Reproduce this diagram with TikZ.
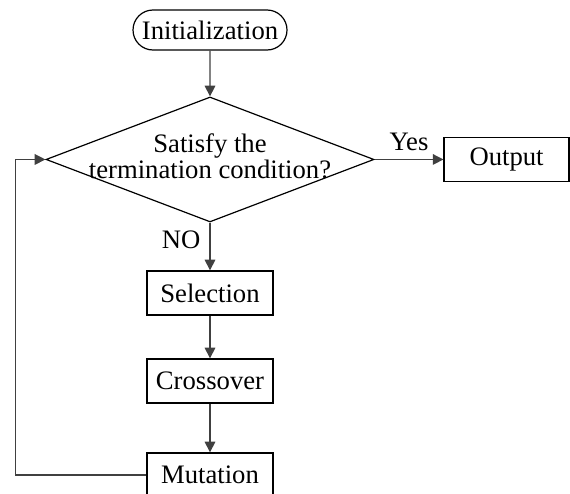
\documentclass[tikz,border=0pt]{standalone}
\usepackage{fontspec}
\setmainfont{Liberation Serif}
\usetikzlibrary{arrows.meta,shapes.geometric,shapes.misc}

\begin{document}
\begin{tikzpicture}[
    line width=0.9pt,
    font=\fontsize{20pt}{16pt}\selectfont,
    start_style/.style={
        rounded rectangle,
        draw=black,
        minimum width=115.5pt,
        minimum height=30pt,
        inner sep=0pt
        },
    decision_style/.style={
        diamond,
        draw=black,
        minimum width=246pt,
        minimum height=93.75pt,
        inner sep=0pt
        },
    block_style/.style={
        rectangle,
        draw=black,
        minimum width=94.5pt,
        minimum height=33pt,
        inner sep=0pt
        },
    edge_style/.style={
        draw=black!75,
        -{Triangle[length=8pt,width=8pt]}
        }]

    \useasboundingbox (0,0) rectangle (427.5pt,-369.75pt);

    \node[start_style] (init) at (157.5pt,-22.5pt) {Initialization};
    \node[decision_style, below of=init, node distance=97.1pt,
        label={[align=center, yshift=2.5pt]center:Satisfy the\\termination condition?}] (cond) {};
    \node[block_style, right of=cond, node distance=222.4pt, minimum width=93.75pt] (out) {Output};
    \node[block_style, below of=cond, node distance=100.1pt] (sel) {Selection};
    \node[block_style, below of=sel, node distance=66pt] (cross) {Crossover};
    \node[block_style, below of=cross, node distance=70.5pt] (mut) {Mutation};

    \draw[edge_style] (init) -- (cond);
    \draw[edge_style] (cond) -- node[above=2.5pt]{Yes} (out);
    \draw[edge_style] (cond) -- node[pos=0.37, left=3.4pt]{NO} (sel);
    \draw[edge_style] (sel) -- (cross);
    \draw[edge_style] (cross) -- (mut);
    \draw[edge_style] (mut.west) -- ++(-98.25pt,0) |- (cond.west);
\end{tikzpicture}
\end{document}
